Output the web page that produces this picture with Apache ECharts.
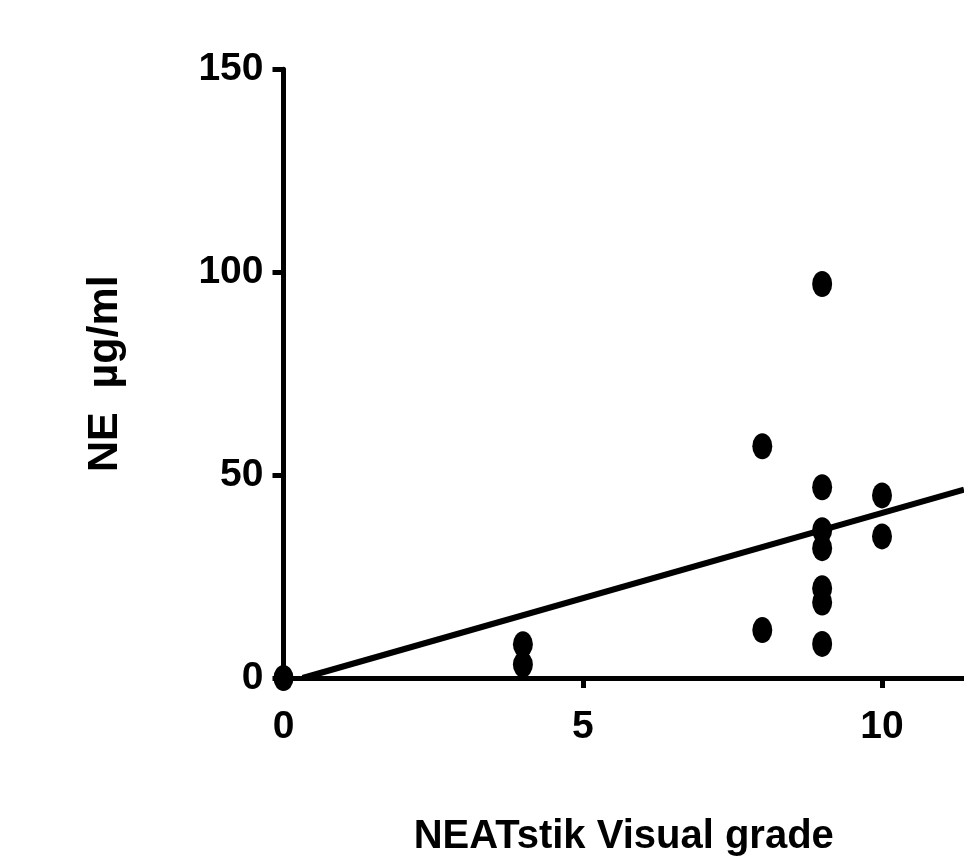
<!DOCTYPE html>
<html>
<head>
<meta charset="utf-8">
<script src="https://cdn.jsdelivr.net/npm/echarts@6/dist/echarts.min.js"></script>
<style>
  html, body { margin: 0; padding: 0; background: #fff; }
  #chart { width: 964px; height: 862px; }
</style>
</head>
<body>
<div id="chart"></div>
<script>
// visual grade vs NE concentration
const gradeValues = [0, 4, 4, 8, 8, 9, 9, 9, 9, 9, 9, 9, 10, 10];
const neValues = [0, 8.3, 3.3, 57.1, 11.8, 97.1, 47.0, 36.4, 32.0, 22.1, 18.6, 8.4, 45.0, 34.9];

// fitted line
const fitX = [0.32, 11.37];
const fitY = [0, 46.4];

const xTicks = [0, 5, 10];
const yTicks = [0, 50, 100, 150];

const fontFam = "'Liberation Sans', Arial, sans-serif";

const points = gradeValues.map((g, i) => [g, neValues[i]]);
const fitLine = fitX.map((x, i) => [x, fitY[i]]);

var myChart = echarts.init(document.getElementById('chart'));
myChart.setOption({
  animation: false,
  grid: {
    left: 283.5,
    right: 0,
    top: 69.3,
    bottom: 183.7,
    containLabel: false
  },
  xAxis: {
    type: 'value',
    min: 0,
    max: 11.37,
    interval: 5,
    name: 'NEATstik Visual grade',
    nameLocation: 'middle',
    nameGap: 139,
    nameTextStyle: { fontFamily: fontFam, fontWeight: 'bold', fontSize: 40, color: '#000' },
    axisLine: { lineStyle: { color: '#000', width: 5 } },
    axisTick: { length: 10, lineStyle: { color: '#000', width: 5 } },
    axisLabel: {
      showMaxLabel: false,
      margin: 30,
      fontFamily: fontFam, fontWeight: 'bold', fontSize: 39, color: '#000',
      formatter: v => xTicks.includes(v) ? String(v) : ''
    },
    splitLine: { show: false }
  },
  yAxis: {
    type: 'value',
    min: 0,
    max: 150,
    interval: 50,
    name: 'NE  \u00b5g/ml',
    nameLocation: 'middle',
    nameGap: 157,
    nameRotate: 90,
    nameTextStyle: { fontFamily: fontFam, fontWeight: 'bold', fontSize: 43, color: '#000' },
    axisLine: { show: true, lineStyle: { color: '#000', width: 5 } },
    axisTick: { show: true, length: 11, lineStyle: { color: '#000', width: 5 } },
    axisLabel: {
      margin: 20,
      fontFamily: fontFam, fontWeight: 'bold', fontSize: 39, color: '#000',
      formatter: v => yTicks.includes(v) ? String(v) : ''
    },
    splitLine: { show: false }
  },
  series: [
    {
      type: 'line',
      data: fitLine,
      showSymbol: false,
      symbol: 'none',
      lineStyle: { color: '#000', width: 6 },
      z: 2
    },
    {
      type: 'scatter',
      data: points,
      symbol: 'circle',
      symbolSize: [20, 26],
      itemStyle: { color: '#000', opacity: 1 },
      clip: false,
      z: 3
    }
  ]
});
</script>
</body>
</html>
